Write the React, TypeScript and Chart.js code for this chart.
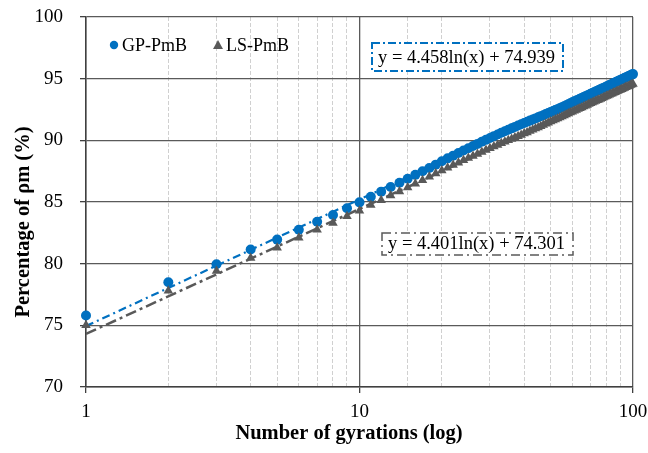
import React, { useEffect, useRef } from "react";
import { Chart, registerables } from "chart.js";

Chart.register(...registerables);

const gyrations = [
  1, 2, 3, 4, 5, 6, 7, 8, 9, 10,
  11, 12, 13, 14, 15, 16, 17, 18, 19, 20,
  21, 22, 23, 24, 25, 26, 27, 28, 29, 30,
  31, 32, 33, 34, 35, 36, 37, 38, 39, 40,
  41, 42, 43, 44, 45, 46, 47, 48, 49, 50,
  51, 52, 53, 54, 55, 56, 57, 58, 59, 60,
  61, 62, 63, 64, 65, 66, 67, 68, 69, 70,
  71, 72, 73, 74, 75, 76, 77, 78, 79, 80,
  81, 82, 83, 84, 85, 86, 87, 88, 89, 90,
  91, 92, 93, 94, 95, 96, 97, 98, 99, 100,
];

const gpPmB = [
  75.8, 78.5, 79.95, 81.15, 81.95, 82.75, 83.4, 83.95, 84.5, 84.97,
  85.42, 85.84, 86.21, 86.56, 86.89, 87.2, 87.49, 87.76, 88.03, 88.3,
  88.54, 88.76, 88.97, 89.17, 89.36, 89.54, 89.71, 89.88, 90.04, 90.19,
  90.34, 90.48, 90.61, 90.74, 90.86, 90.97, 91.09, 91.2, 91.3, 91.4,
  91.5, 91.6, 91.69, 91.78, 91.87, 91.96, 92.04, 92.13, 92.21, 92.29,
  92.37, 92.45, 92.53, 92.61, 92.69, 92.77, 92.85, 92.93, 93.01, 93.08,
  93.16, 93.23, 93.3, 93.37, 93.44, 93.51, 93.57, 93.64, 93.7, 93.77,
  93.83, 93.89, 93.96, 94.02, 94.08, 94.14, 94.2, 94.25, 94.31, 94.37,
  94.42, 94.48, 94.53, 94.59, 94.64, 94.69, 94.75, 94.8, 94.85, 94.9,
  94.95, 95.0, 95.05, 95.09, 95.14, 95.19, 95.24, 95.28, 95.33, 95.37,
];

const lsPmB = [
  75.0, 77.8, 79.4, 80.45, 81.3, 82.1, 82.75, 83.3, 83.85, 84.3,
  84.75, 85.15, 85.52, 85.86, 86.18, 86.48, 86.77, 87.05, 87.31, 87.56,
  87.78, 87.99, 88.19, 88.38, 88.56, 88.73, 88.9, 89.06, 89.21, 89.36,
  89.49, 89.63, 89.76, 89.88, 90.0, 90.11, 90.22, 90.33, 90.44, 90.55,
  90.64, 90.75, 90.85, 90.96, 91.05, 91.15, 91.25, 91.34, 91.43, 91.52,
  91.61, 91.69, 91.77, 91.86, 91.94, 92.02, 92.09, 92.17, 92.25, 92.32,
  92.39, 92.46, 92.54, 92.6, 92.67, 92.74, 92.81, 92.87, 92.94, 93.0,
  93.06, 93.12, 93.18, 93.24, 93.3, 93.36, 93.42, 93.47, 93.53, 93.59,
  93.64, 93.7, 93.75, 93.8, 93.85, 93.9, 93.96, 94.01, 94.06, 94.1,
  94.15, 94.2, 94.25, 94.3, 94.34, 94.39, 94.43, 94.48, 94.52, 94.57,
];

// trendline end points (straight on a log x axis)
const trendX = [1, 100];
const gpTrend = [74.94, 95.47];
const lsTrend = [74.3, 94.57];

const seriesNames = ["GP-PmB", "LS-PmB"];
const equations = ["y = 4.458ln(x) + 74.939", "y = 4.401ln(x) + 74.301"];
const axisTitles = ["Number of gyrations (log)", "Percentage of ρm (%)"];
const xLabelTicks = [1, 10, 100];
const yTicks = [70, 75, 80, 85, 90, 95, 100];

const BLUE = "#0070C0";
const GREY = "#595959";
const SERIF = "'Liberation Serif', 'Times New Roman', serif";

const decorPlugin = {
  id: "decor",
  beforeDraw(chart: any) {
    const { ctx, width, height } = chart;
    ctx.save();
    ctx.fillStyle = "#ffffff";
    ctx.fillRect(0, 0, width, height);
    ctx.restore();
  },
  afterDraw(chart: any) {
    const { ctx, chartArea } = chart;
    const L = chartArea.left;
    const T = chartArea.top;
    ctx.save();
    // axis titles
    ctx.fillStyle = "#000";
    ctx.font = `bold 20.5px ${SERIF}`;
    ctx.textAlign = "center";
    ctx.textBaseline = "middle";
    ctx.fillText(axisTitles[0], L + 263, chartArea.bottom + 47);
    ctx.save();
    ctx.translate(24, T + 205);
    ctx.rotate(-Math.PI / 2);
    ctx.fillText(axisTitles[1], 0, 0);
    ctx.restore();

    // legend
    ctx.font = `18px ${SERIF}`;
    ctx.textBaseline = "middle";
    ctx.textAlign = "left";
    ctx.fillStyle = BLUE;
    ctx.beginPath();
    ctx.arc(L + 28, T + 28, 4.2, 0, Math.PI * 2);
    ctx.fill();
    ctx.fillStyle = "#000";
    ctx.fillText(seriesNames[0], L + 36, T + 29);
    ctx.fillStyle = GREY;
    ctx.beginPath();
    const tx = L + 132, ty = T + 28;
    ctx.moveTo(tx, ty - 5);
    ctx.lineTo(tx + 5, ty + 4);
    ctx.lineTo(tx - 5, ty + 4);
    ctx.closePath();
    ctx.fill();
    ctx.fillStyle = "#000";
    ctx.fillText(seriesNames[1], L + 140, T + 29);

    // equation boxes
    ctx.font = `18.5px ${SERIF}`;
    // blue
    ctx.fillStyle = "#fff";
    ctx.fillRect(L + 286, T + 26, 191, 28);
    ctx.strokeStyle = BLUE;
    ctx.lineWidth = 2;
    ctx.setLineDash([8, 3, 2, 3]);
    ctx.strokeRect(L + 286, T + 26, 191, 28);
    ctx.setLineDash([]);
    ctx.fillStyle = "#000";
    ctx.fillText(equations[0], L + 292, T + 41);
    // grey
    ctx.fillStyle = "#fff";
    ctx.fillRect(L + 296, T + 216, 191, 22);
    ctx.strokeStyle = GREY;
    ctx.lineWidth = 1.5;
    ctx.setLineDash([9, 4, 2, 4]);
    ctx.strokeRect(L + 296, T + 216, 191, 22);
    ctx.setLineDash([]);
    ctx.fillStyle = "#000";
    ctx.fillText(equations[1], L + 302, T + 227);
    ctx.restore();
  },
};

export default function App() {
  const ref = useRef<HTMLCanvasElement | null>(null);
  useEffect(() => {
    if (!ref.current) return;
    const isMajor = (v: number) => xLabelTicks.includes(Math.round(v * 1000) / 1000);
    const chart = new Chart(ref.current, {
      type: "scatter",
      data: {
        datasets: [
          {
            label: seriesNames[1] + " trend",
            data: trendX.map((x, i) => ({ x, y: lsTrend[i] })),
            showLine: true,
            pointRadius: 0,
            borderColor: GREY,
            borderWidth: 2.5,
            borderDash: [11, 4, 3, 4],
            order: 4,
          },
          {
            label: seriesNames[0] + " trend",
            data: trendX.map((x, i) => ({ x, y: gpTrend[i] })),
            showLine: true,
            pointRadius: 0,
            borderColor: BLUE,
            borderWidth: 2.2,
            borderDash: [8, 4, 2, 4],
            order: 3,
          },
          {
            label: seriesNames[0],
            data: gyrations.map((x, i) => ({ x, y: gpPmB[i] })),
            pointStyle: "circle",
            pointRadius: 5,
            backgroundColor: BLUE,
            borderColor: BLUE,
            borderWidth: 0,
            clip: false,
            order: 2,
          },
          {
            label: seriesNames[1],
            data: gyrations.map((x, i) => ({ x, y: lsPmB[i] })),
            pointStyle: "triangle",
            pointRadius: 5.5,
            backgroundColor: GREY,
            borderColor: GREY,
            borderWidth: 0,
            clip: false,
            order: 1,
          },
        ],
      },
      options: {
        animation: false,
        responsive: false,
        devicePixelRatio: 1,
        layout: { padding: { left: 0, top: 17, right: 15, bottom: 0 } },
        plugins: { legend: { display: false }, tooltip: { enabled: false } },
        scales: {
          x: {
            type: "logarithmic",
            min: 1,
            max: 100,
            afterFit: (s: any) => {
              s.height = 66;
              s.paddingLeft = 0;
              s.paddingRight = 0;
            },
            ticks: {
              autoSkip: false,
              maxRotation: 0,
              color: "#000",
              padding: 8,
              font: { family: SERIF, size: 19 },
              callback: (v: any) => (isMajor(Number(v)) ? String(Math.round(Number(v))) : ""),
            },
            grid: {
              color: (c: any) => (c.tick && isMajor(c.tick.value) ? "#5a5a5a" : "#d0d0d0"),
              lineWidth: (c: any) => (c.tick && isMajor(c.tick.value) ? 1.3 : 1),
              tickColor: (c: any) => (c.tick && isMajor(c.tick.value) ? "#404040" : "rgba(0,0,0,0)"),
              tickLength: 6,
            },
            border: {
              color: "#404040",
              width: 1.5,
              dash: (c: any) => (c.tick && isMajor(c.tick.value) ? [] : [4, 2]),
            },
          },
          y: {
            type: "linear",
            min: 70,
            max: 100,
            afterFit: (s: any) => {
              s.width = 86;
              s.paddingTop = 0;
              s.paddingBottom = 0;
            },
            afterBuildTicks: (s: any) => {
              s.ticks = yTicks.map((v) => ({ value: v }));
            },
            ticks: {
              color: "#000",
              padding: 17,
              font: { family: SERIF, size: 19 },
            },
            grid: {
              color: "#5a5a5a",
              lineWidth: 1.3,
              tickColor: "#404040",
              tickLength: 6,
            },
            border: { color: "#404040", width: 1.5 },
          },
        },
      },
      plugins: [decorPlugin],
    } as any);
    return () => chart.destroy();
  }, []);

  return (
    <div style={{ position: "absolute", left: 0, top: 0, width: 648, height: 453, background: "#fff" }}>
      <canvas ref={ref} width={648} height={453} style={{ display: "block" }} />
    </div>
  );
}
